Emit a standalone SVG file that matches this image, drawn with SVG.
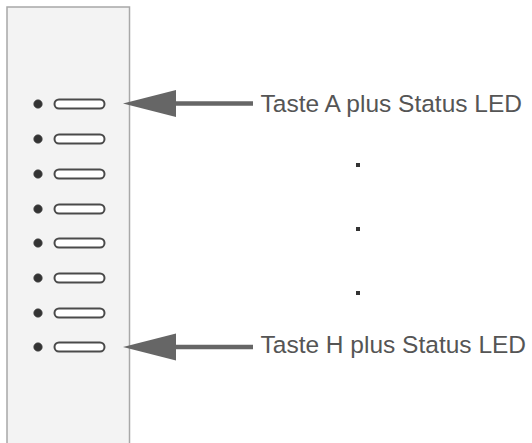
<svg xmlns="http://www.w3.org/2000/svg" width="532" height="443" viewBox="0 0 532 443">
<defs>
<style>
.led{fill:#333;stroke:#555;stroke-width:0.6}
.btn{fill:#fff;stroke:#4a4a4a;stroke-width:2}
.lbl{font-family:"Liberation Sans",Arial,sans-serif;font-size:24.5px;fill:#555}
.shaft{stroke:#666;stroke-width:4.5}
.head{fill:#666}
.dot{fill:#333}
</style>
</defs>
<rect width="532" height="443" fill="#fff"/>
<g id="panel">
<rect x="7" y="7" width="122.5" height="440" fill="#f3f3f3" stroke="#a8a8a8" stroke-width="1.5"/>
</g>
<g id="keys">
<g id="key-A"><circle class="led" cx="38" cy="104" r="4.3"/><rect class="btn" x="54.5" y="99.5" width="50" height="9" rx="4.5"/></g>
<g id="key-B"><circle class="led" cx="38" cy="139" r="4.3"/><rect class="btn" x="54.5" y="134.5" width="50" height="9" rx="4.5"/></g>
<g id="key-C"><circle class="led" cx="38" cy="174" r="4.3"/><rect class="btn" x="54.5" y="169.5" width="50" height="9" rx="4.5"/></g>
<g id="key-D"><circle class="led" cx="38" cy="209" r="4.3"/><rect class="btn" x="54.5" y="204.5" width="50" height="9" rx="4.5"/></g>
<g id="key-E"><circle class="led" cx="38" cy="243" r="4.3"/><rect class="btn" x="54.5" y="238.5" width="50" height="9" rx="4.5"/></g>
<g id="key-F"><circle class="led" cx="38" cy="278" r="4.3"/><rect class="btn" x="54.5" y="273.5" width="50" height="9" rx="4.5"/></g>
<g id="key-G"><circle class="led" cx="38" cy="313" r="4.3"/><rect class="btn" x="54.5" y="308.5" width="50" height="9" rx="4.5"/></g>
<g id="key-H"><circle class="led" cx="38" cy="347" r="4.3"/><rect class="btn" x="54.5" y="342.5" width="50" height="9" rx="4.5"/></g>
</g>
<g id="connectors">
<line class="shaft" x1="174" y1="103.5" x2="253" y2="103.5"/>
<polygon class="head" points="123,103.5 176,90 176,117"/>
<line class="shaft" x1="174" y1="347" x2="253" y2="347"/>
<polygon class="head" points="123,347 176,333.5 176,360.5"/>
</g>
<g id="label-A"><text class="lbl" x="260.5" y="112">Taste A plus Status LED</text></g>
<g id="label-H"><text class="lbl" x="260.5" y="352.5">Taste H plus Status LED</text></g>
<g id="ellipsis">
<rect class="dot" x="356" y="163" width="4" height="4"/>
<rect class="dot" x="356" y="227" width="4" height="4"/>
<rect class="dot" x="356" y="291" width="4" height="4"/>
</g>
</svg>
